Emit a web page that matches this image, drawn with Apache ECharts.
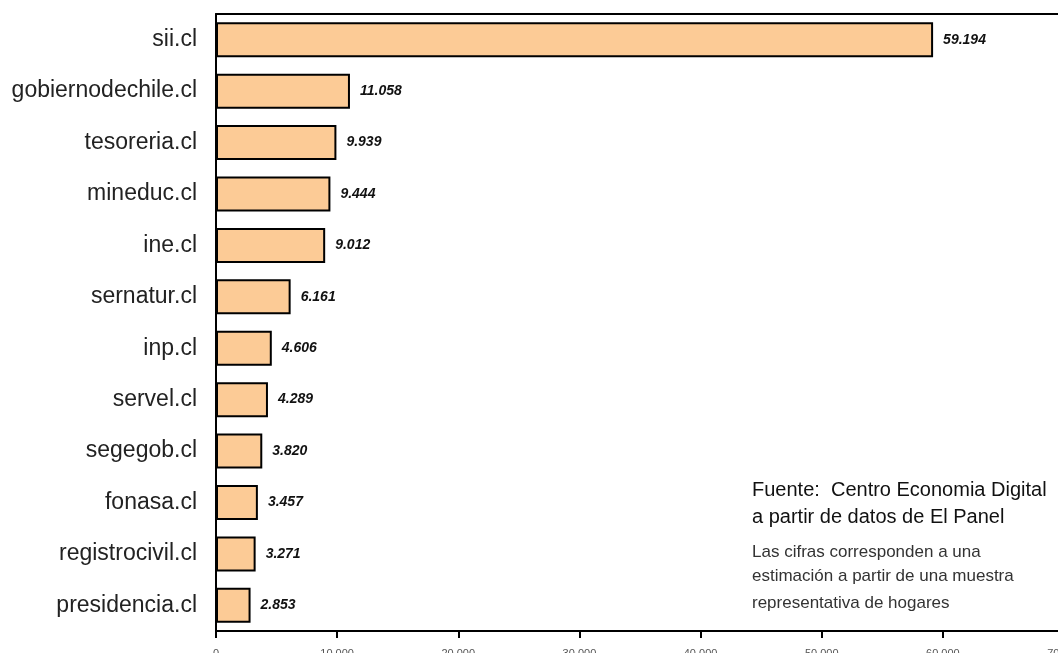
<!DOCTYPE html>
<html>
<head>
<meta charset="utf-8">
<script src="https://cdn.jsdelivr.net/npm/echarts@6/dist/echarts.min.js"></script>
<style>
  html, body { margin: 0; padding: 0; background: #fff; }
  #chart { width: 1058px; height: 653px; }
</style>
</head>
<body>
<div id="chart"></div>
<script>
// sitios de gobierno, de arriba hacia abajo
var sites = ['sii.cl', 'gobiernodechile.cl', 'tesoreria.cl', 'mineduc.cl', 'ine.cl', 'sernatur.cl',
  'inp.cl', 'servel.cl', 'segegob.cl', 'fonasa.cl', 'registrocivil.cl', 'presidencia.cl'];
var visits = [59194, 11058, 9939, 9444, 9012, 6161, 4606, 4289, 3820, 3457, 3271, 2853];

var axisMax = 70000;
var axisStep = 10000;

var font = 'Liberation Sans, Arial, sans-serif';

// 59194 -> "59.194"
function fmt(v) {
  return String(v).replace(/\B(?=(\d{3})+(?!\d))/g, '.');
}

var chart = echarts.init(document.getElementById('chart'));

chart.setOption({
  animation: false,
  backgroundColor: '#fff',
  grid: {
    left: 216,
    top: 14,
    width: 848,
    height: 617,
    outerBoundsMode: 'none',
    containLabel: false
  },
  xAxis: [{
    type: 'value',
    min: 0,
    max: axisMax,
    interval: axisStep,
    axisLine: { show: true, lineStyle: { color: '#000', width: 2 } },
    axisTick: { show: true, length: 7, lineStyle: { color: '#000', width: 2 } },
    axisLabel: {
      margin: 17,
      fontSize: 11,
      color: '#555',
      fontFamily: font,
      formatter: function(v) { return v === 0 ? '0' : fmt(v); }
    },
    splitLine: { show: false }
  }, {
    // linea superior del marco
    type: 'value',
    position: 'top',
    min: 0,
    max: axisMax,
    axisLine: { show: true, lineStyle: { color: '#000', width: 2 } },
    axisTick: { show: false },
    axisLabel: { show: false },
    splitLine: { show: false }
  }],
  yAxis: {
    type: 'category',
    inverse: true,
    data: sites,
    axisLine: { show: true, lineStyle: { color: '#000', width: 2 } },
    axisTick: { show: false },
    axisLabel: {
      margin: 19,
      fontSize: 23,
      color: '#222',
      fontFamily: font
    }
  },
  series: [{
    type: 'bar',
    data: visits,
    barWidth: 35,
    itemStyle: {
      color: '#FCCB96',
      borderColor: '#000',
      borderWidth: 2
    },
    label: {
      show: true,
      position: 'right',
      distance: 10,
      fontSize: 14,
      fontStyle: 'italic',
      fontWeight: 'bold',
      color: '#111',
      fontFamily: font,
      formatter: function(p) { return fmt(p.value); }
    }
  }],
  graphic: [
    { type: 'text', left: 752, top: 480, style: { text: 'Fuente:  Centro Economia Digital', fontSize: 20, fill: '#111', fontFamily: font } },
    { type: 'text', left: 752, top: 507, style: { text: 'a partir de datos de El Panel', fontSize: 20, fill: '#111', fontFamily: font } },
    { type: 'text', left: 752, top: 544, style: { text: 'Las cifras corresponden a una', fontSize: 17, fill: '#333', fontFamily: font } },
    { type: 'text', left: 752, top: 568, style: { text: 'estimación a partir de una muestra', fontSize: 17, fill: '#333', fontFamily: font } },
    { type: 'text', left: 752, top: 595, style: { text: 'representativa de hogares', fontSize: 17, fill: '#333', fontFamily: font } }
  ]
});
</script>
</body>
</html>
